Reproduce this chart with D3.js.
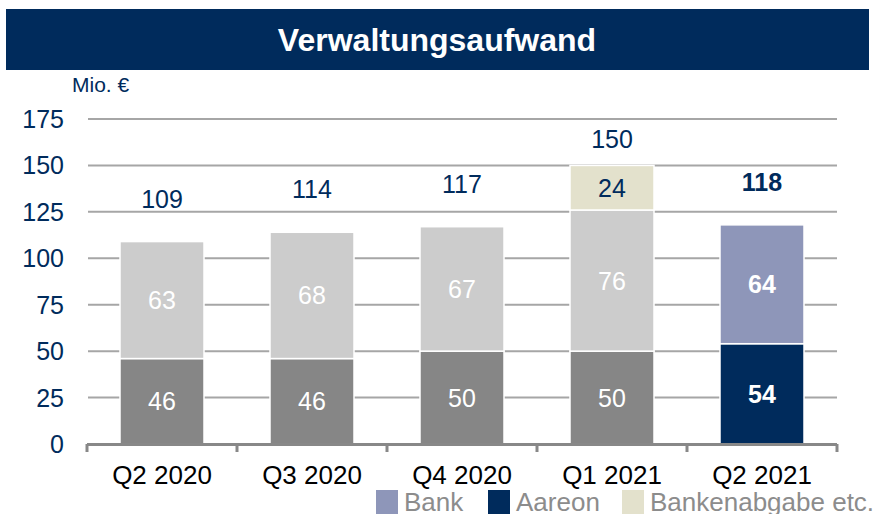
<!DOCTYPE html>
<html>
<head>
<meta charset="utf-8">
<script src="https://cdn.jsdelivr.net/npm/d3@7"></script>
<style>
  body { margin: 0; background: #fff; }
  svg { display: block; font-family: "Liberation Sans", Arial, sans-serif; }
</style>
</head>
<body>
<script>
// data
const categories = ['Q2 2020', 'Q3 2020', 'Q4 2020', 'Q1 2021', 'Q2 2021']
const aareon = [46, 46, 50, 50, 54]
const bank = [63, 68, 67, 76, 64]
const abgabe = [0, 0, 0, 24, 0]
const totals = [109, 114, 117, 150, 118]
const yTicks = [0, 25, 50, 75, 100, 125, 150, 175]
const legendItems = ['Bank', 'Aareon', 'Bankenabgabe etc.']

const navy = '#002b5c'
const colOld = { aareon: '#868686', bank: '#cccccc', abgabe: '#e3e1cc' }
const colNew = { aareon: navy, bank: '#8e96b9', abgabe: '#e3e1cc' }
const latest = categories.length - 1

const W = 893, H = 514
const svg = d3.select('body').append('svg')
    .attr('width', W)
    .attr('height', H)

// title bar
svg.append('rect')
    .attr('x', 6).attr('y', 9)
    .attr('width', 863).attr('height', 61)
    .attr('fill', navy)
svg.append('text')
    .attr('x', 437).attr('y', 51)
    .attr('text-anchor', 'middle')
    .attr('fill', '#fff')
    .attr('font-weight', 'bold')
    .attr('font-size', 32)
    .text('Verwaltungsaufwand')

svg.append('text')
    .attr('x', 72).attr('y', 92)
    .attr('fill', navy)
    .attr('font-size', 21)
    .text('Mio. €')

const x = d3.scaleBand()
    .domain(categories)
    .range([87, 837])
    .paddingInner(0.44)
    .paddingOuter(0.22)

const y = d3.scaleLinear()
    .domain([0, 175])
    .range([444, 119])

// gridlines
svg.append('g')
    .selectAll('line')
    .data(yTicks.filter(d => d > 0))
    .join('line')
    .attr('x1', 88).attr('x2', 837)
    .attr('y1', d => y(d)).attr('y2', d => y(d))
    .attr('stroke', '#a6a6a6')
    .attr('stroke-width', 2)

// y labels
svg.append('g')
    .selectAll('text')
    .data(yTicks)
    .join('text')
    .attr('x', 64)
    .attr('y', d => y(d) + 9)
    .attr('text-anchor', 'end')
    .attr('fill', navy)
    .attr('font-size', 25)
    .text(d => d)

// stacked bars
const rows = categories.map((c, i) => ({ cat: c, i: i, aareon: aareon[i], bank: bank[i], abgabe: abgabe[i] }))
const keys = ['aareon', 'bank', 'abgabe']
const series = d3.stack().keys(keys)(rows)

const g = svg.append('g')
series.forEach(s => {
    s.forEach(d => {
        const v = d[1] - d[0]
        if (v <= 0) return
        const i = d.data.i
        const col = (i === latest ? colNew : colOld)[s.key]
        g.append('rect')
            .attr('x', x(d.data.cat))
            .attr('y', y(d[1]))
            .attr('width', x.bandwidth())
            .attr('height', y(d[0]) - y(d[1]))
            .attr('fill', col)
            .attr('stroke', '#fff')
            .attr('stroke-width', 1.5)
        g.append('text')
            .attr('x', x(d.data.cat) + x.bandwidth() / 2)
            .attr('y', (y(d[0]) + y(d[1])) / 2 + 9)
            .attr('text-anchor', 'middle')
            .attr('font-size', 25)
            .attr('font-weight', i === latest ? 'bold' : 'normal')
            .attr('fill', s.key === 'abgabe' ? navy : '#fff')
            .text(v)
    })
})

// totals
svg.append('g')
    .selectAll('text')
    .data(totals)
    .join('text')
    .attr('x', (d, i) => x(categories[i]) + x.bandwidth() / 2)
    .attr('y', (d, i) => y(d) - (abgabe[i] > 0 ? 17 : 34))
    .attr('text-anchor', 'middle')
    .attr('font-size', 25)
    .attr('font-weight', (d, i) => i === latest ? 'bold' : 'normal')
    .attr('fill', navy)
    .text(d => d)

// x axis
svg.append('line')
    .attr('x1', 87).attr('x2', 837)
    .attr('y1', 444.5).attr('y2', 444.5)
    .attr('stroke', '#888')
    .attr('stroke-width', 3)
const bounds = categories.map(c => x(c) - x.step() * 0.22).concat([837])
svg.append('g')
    .selectAll('line')
    .data(bounds)
    .join('line')
    .attr('x1', d => d).attr('x2', d => d)
    .attr('y1', 444).attr('y2', 452)
    .attr('stroke', '#888')
    .attr('stroke-width', 3)

svg.append('g')
    .selectAll('text')
    .data(categories)
    .join('text')
    .attr('x', d => x(d) + x.bandwidth() / 2)
    .attr('y', 484)
    .attr('text-anchor', 'middle')
    .attr('font-size', 26)
    .attr('fill', '#000')
    .text(d => d)

// legend
const legendCols = [colNew.bank, colNew.aareon, colNew.abgabe]
const legendX = [376, 488, 622]
const lg = svg.append('g')
legendItems.forEach((name, i) => {
    lg.append('rect')
        .attr('x', legendX[i]).attr('y', 490)
        .attr('width', 22).attr('height', 26)
        .attr('fill', legendCols[i])
    lg.append('text')
        .attr('x', legendX[i] + 28).attr('y', 511)
        .attr('font-size', 26)
        .attr('fill', '#8c8c8c')
        .text(name)
})
</script>
</body>
</html>
